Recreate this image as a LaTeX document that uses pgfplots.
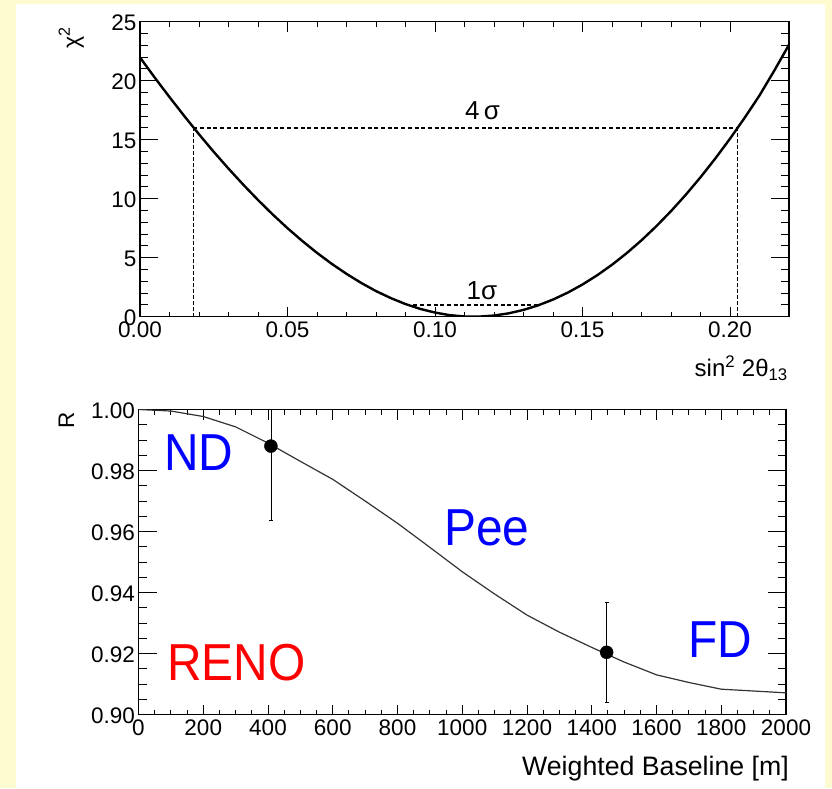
\documentclass[border=0pt]{standalone}
\usepackage{fontspec}
\setmainfont{Liberation Sans}
\usepackage{pgfplots}
\pgfplotsset{compat=1.18}
\definecolor{bgyellow}{RGB}{255,251,208}
\begin{document}
\begin{tikzpicture}
\fill[bgyellow] (0,0) rectangle (832pt,788pt);
\fill[white] (16pt,0) rectangle (825pt,784pt);
\useasboundingbox (0,0) rectangle (832pt,788pt);
\pgfplotsset{
  rootaxis/.style={
    scale only axis,
    anchor=south west,
    axis line style={line width=1.6pt},
    tick style={black, line width=1pt},
    tick align=inside, xtick pos=both, ytick pos=both,
    every major x tick/.append style={/pgfplots/major tick length=10pt},
    every minor x tick/.append style={/pgfplots/minor tick length=5pt},
    every major y tick/.append style={/pgfplots/major tick length=18pt},
    every minor y tick/.append style={/pgfplots/minor tick length=8pt},
    tick label style={font=\fontsize{22.5}{24}\selectfont},
    xticklabel style={yshift=-2pt},
    yticklabel style={yshift=-1.5pt},
    /pgf/number format/assume math mode=true,
    /pgf/number format/1000 sep={},
  }
}
% ---------------- top panel ----------------
\begin{axis}[rootaxis,
  at={(140pt,471.3pt)}, width=649pt, height=295pt,
  xmin=0, xmax=0.22, ymin=0, ymax=25,
  xtick={0,0.05,0.1,0.15,0.2}, minor x tick num=4,
  ytick={0,5,10,15,20,25}, minor y tick num=4,
  xticklabel style={/pgf/number format/.cd, fixed, fixed zerofill, precision=2},
]
\addplot[black, line width=2.4pt, no markers] coordinates {
(0.000,21.97) (0.005,20.26) (0.010,18.61) (0.015,17.01) (0.020,15.46)
(0.025,13.97) (0.030,12.55) (0.035,11.19) (0.040,9.89) (0.045,8.66)
(0.050,7.50) (0.055,6.42) (0.060,5.41) (0.065,4.48) (0.070,3.63)
(0.075,2.86) (0.080,2.17) (0.085,1.58) (0.090,1.07) (0.095,0.66)
(0.100,0.35) (0.105,0.13) (0.110,0.019) (0.113,0.0) (0.115,0.008)
(0.120,0.098) (0.125,0.287) (0.130,0.576) (0.135,0.965) (0.140,1.453)
(0.145,2.041) (0.150,2.728) (0.155,3.516) (0.160,4.402) (0.165,5.389)
(0.170,6.475) (0.175,7.661) (0.180,8.947) (0.185,10.332) (0.190,11.816)
(0.195,13.401) (0.200,15.085) (0.205,16.869) (0.210,18.752) (0.215,20.85)
(0.220,23.05)
};
\addplot[black, line width=1.6pt, dash pattern=on 4pt off 2.7pt] coordinates {(0.0181,16) (0.2025,16)};
\addplot[black, line width=1.1pt, dash pattern=on 3.5pt off 2.5pt] coordinates {(0.0181,0) (0.0181,16)};
\addplot[black, line width=1.1pt, dash pattern=on 3.5pt off 2.5pt] coordinates {(0.2025,0) (0.2025,16)};
\addplot[black, line width=1.6pt, dash pattern=on 4pt off 2.7pt] coordinates {(0.0927,1) (0.135,1)};
\node[anchor=base, inner sep=0pt, font=\fontsize{26}{28}\selectfont] at (axis cs:0.1161,16.67) {4\,σ};
\node[anchor=base, inner sep=0pt, font=\fontsize{26}{28}\selectfont] at (axis cs:0.1159,1.47) {1σ};
\end{axis}
% ---------------- bottom panel ----------------
\begin{axis}[rootaxis,
  at={(138.5pt,73.5pt)}, width=647.5pt, height=305pt,
  xmin=0, xmax=2000, ymin=0.9, ymax=1.0,
  xtick={0,200,400,600,800,1000,1200,1400,1600,1800,2000}, minor x tick num=3,
  ytick={0.90,0.92,0.94,0.96,0.98,1.00}, minor y tick num=3,
  yticklabel style={/pgf/number format/.cd, fixed, fixed zerofill, precision=2},
]
\addplot[black!80, line width=1.2pt, no markers] coordinates {
(0,1.0000) (100,0.9995) (200,0.9977) (300,0.9943) (400,0.9890)
(500,0.9830) (600,0.9771) (700,0.9700) (800,0.9627) (900,0.9548)
(1000,0.9468) (1100,0.9395) (1200,0.9326) (1300,0.9270) (1400,0.9220)
(1500,0.9172) (1600,0.9130) (1700,0.9105) (1800,0.9083) (1900,0.9077)
(2000,0.9071)
};
\addplot[black, only marks, mark=*, mark size=6.5pt,
  error bars/.cd, y dir=both, y explicit,
  error bar style={line width=0.8pt, black},
  error mark options={rotate=90, mark size=2pt, line width=0.8pt, black}]
  coordinates {(409,0.9880) +- (0,0.0242) (1446,0.9204) +- (0,0.0163)};
\end{axis}
% ---------------- axis titles ----------------
\node[rotate=90, anchor=base east, inner sep=0pt, font=\fontsize{23}{26}\selectfont] at (79pt,761pt) {χ\textsuperscript{2}};
\node[anchor=base east, inner sep=0pt, font=\fontsize{24}{26}\selectfont] at (788pt,411pt) {sin\textsuperscript{2} 2θ\textsubscript{13}};
\node[rotate=90, anchor=base east, inner sep=0pt, font=\fontsize{22.5}{24}\selectfont] at (74pt,376pt) {R};
\node[anchor=base east, inner sep=0pt, font=\fontsize{26.7}{30}\selectfont] at (789pt,13pt) {Weighted Baseline [m]};
% ---------------- annotations ----------------
\node[anchor=base west, inner sep=0pt, xscale=0.92, text=blue, font=\fontsize{52}{60}\selectfont] at (164pt,318pt) {ND};
\node[anchor=base west, inner sep=0pt, xscale=0.92, text=blue, font=\fontsize{52}{60}\selectfont] at (444pt,243pt) {Pee};
\node[anchor=base west, inner sep=0pt, xscale=0.92, text=blue, font=\fontsize{52}{60}\selectfont] at (688pt,131pt) {FD};
\node[anchor=base west, inner sep=0pt, xscale=0.92, text=red, font=\fontsize{52}{60}\selectfont] at (167pt,108pt) {RENO};
\end{tikzpicture}
\end{document}
